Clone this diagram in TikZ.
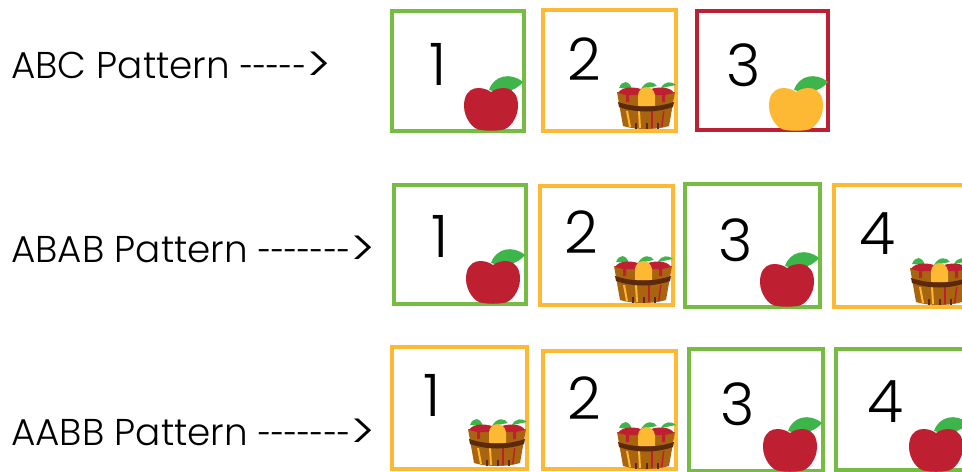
\documentclass[tikz,border=0pt]{standalone}
\usepackage{fontspec}
\setmainfont{Poppins Light}
\usetikzlibrary{positioning}
\definecolor{cardgreen}{HTML}{76BC43}
\definecolor{cardyellow}{HTML}{FDB933}
\definecolor{cardred}{HTML}{BE2033}
\definecolor{applered}{HTML}{BE2032}
\definecolor{leafgreen}{HTML}{3DB54A}
\definecolor{tubbrown}{HTML}{A9640F}
\definecolor{tubdark}{HTML}{5B2A0C}
\def\dashrun#1{\raisebox{-2pt}{\foreach \d in {1,...,#1}{\scalebox{.68}[1]{-}}}\raisebox{-3pt}{\fontsize{38}{38}\selectfont\textgreater}}
\tikzset{
	cardbox/.style n args={3}{
		draw=#1, line width=3.2pt, fill=white, inner sep=0pt,
		minimum width=#2*.75pt-3.2pt, minimum height=#3*.75pt-3.2pt
	},
	numeral/.style={font=\fontsize{44}{44}\selectfont, text=black, inner sep=0pt},
	rowlabel/.style={font=\fontsize{28}{28}\selectfont, text=black, inner sep=0pt, anchor=base west},
	apple/.pic={
		\fill[leafgreen] (-2,-40) .. controls (3,-55) and (20,-58) .. (32,-48) .. controls (24,-38) and (10,-36) .. (-2,-40) -- cycle;
		\fill[#1] (0,-38) .. controls (-8,-44) and (-27,-46) .. (-27,-24) .. controls (-27,-12) and (-18,0) .. (-10,0) .. controls (-5,1) and (5,1) .. (10,0) .. controls (18,0) and (27,-12) .. (27,-24) .. controls (27,-46) and (8,-44) .. (0,-38) -- cycle;
	},
	basket/.pic={
		\fill[leafgreen] (-27,-42) .. controls (-24,-50) and (-17,-50) .. (-14,-41) -- cycle;
		\fill[leafgreen] (-5,-41) .. controls (0,-50) and (8,-49) .. (11,-44) -- cycle;
		\fill[leafgreen] (15,-42) .. controls (18,-49) and (26,-49) .. (30,-45) -- cycle;
		\fill[tubbrown] (-29,-38) -- (29,-38) -- (23,-4) .. controls (10,0) and (-10,0) .. (-23,-4) -- cycle;
		\fill[applered] (-28,-37) .. controls (-24,-44) and (-10,-44) .. (0,-39) .. controls (10,-44) and (24,-44) .. (28,-37) -- (19,-35) -- (19,-28) -- (16,-28) -- (16,-35) -- (-17,-35) -- (-17,-28) -- (-20,-28) -- (-20,-35) -- cycle;
		\fill[cardyellow] (-8,-24) -- (-8,-35) .. controls (-7,-45) and (7,-46) .. (9,-35) -- (9,-24) -- cycle;
		\fill[cardyellow] (-20,-19) -- (-18,-19) -- (-15,-3) -- (-17,-3) -- cycle;
		\fill[cardyellow] (-8,-19) -- (-6,-19) -- (-5,-2) -- (-7,-2) -- cycle;
		\fill[applered] (5,-19) -- (6.5,-19) -- (6.5,-2) -- (5,-2) -- cycle;
		\fill[applered] (17,-19) -- (18.5,-19) -- (16.5,-3) -- (15,-3) -- cycle;
		\fill[tubdark] (-28,-28) .. controls (-10,-22) and (10,-22) .. (28,-28) -- (27,-23) .. controls (10,-17) and (-10,-17) .. (-27,-23) -- cycle;
		\foreach \slat in {-11,0,11}
			\fill[tubdark] (\slat,-7) rectangle (\slat+1.5,-1);
	}
}

\begin{document}
\begin{tikzpicture}[x=.75pt,y=-.75pt]
\useasboundingbox (0,0) rectangle (962,471);
\clip (0,0) rectangle (962,471);

\node[rowlabel] (abclabel) at (11,78) {ABC Pattern \dashrun{5}};
\node[rowlabel] (abablabel) at (11,262) {ABAB Pattern \dashrun{7}};
\node[rowlabel] (aabblabel) at (11,445) {AABB Pattern \dashrun{7}};

% first row
\node[cardbox={cardgreen}{136}{124}] (abcone) at (458,71) {};
\node[cardbox={cardyellow}{137}{125}] (abctwo) at (609.5,70.5) {};
\node[cardbox={cardred}{135}{123}] (abcthree) at (762.5,70.5) {};
\node[numeral] (abconenum) at (438,64) {1};
\node[numeral] (abctwonum) at (584,59) {2};
\node[numeral] (abcthreenum) at (744,65) {3};
\pic at (491,130) {apple=applered};
\pic at (646,130) {basket};
\pic at (796,130) {apple=cardyellow};

% second row
\node[cardbox={cardgreen}{136}{123}] (ababone) at (460,244.5) {};
\node[cardbox={cardyellow}{137}{123}] (ababtwo) at (606.5,245.5) {};
\node[cardbox={cardgreen}{139}{127}] (ababthree) at (752.5,245.5) {};
\node[cardbox={cardyellow}{137}{126}] (ababfour) at (900.5,246) {};
\node[numeral] (ababonenum) at (440,236) {1};
\node[numeral] (ababtwonum) at (581,232) {2};
\node[numeral] (ababthreenum) at (736,240) {3};
\node[numeral] (ababfournum) at (877,234) {4};
\pic at (493,303) {apple=applered};
\pic at (643,304) {basket};
\pic at (787,306) {apple=applered};
\pic at (939,306) {basket};

% third row
\node[cardbox={cardyellow}{139}{126}] (aabbone) at (459.5,408) {};
\node[cardbox={cardyellow}{137}{122}] (aabbtwo) at (609.5,410) {};
\node[cardbox={cardgreen}{138}{126}] (aabbthree) at (756,410) {};
\node[cardbox={cardgreen}{138}{126}] (aabbfour) at (903,409.5) {};
\node[numeral] (aabbonenum) at (432,395) {1};
\node[numeral] (aabbtwonum) at (584,398) {2};
\node[numeral] (aabbthreenum) at (738,404) {3};
\node[numeral] (aabbfournum) at (885,402) {4};
\pic at (497,467) {basket};
\pic at (646,470) {basket};
\pic at (790,471) {apple=applered};
\pic at (936,471) {apple=applered};
\end{tikzpicture}
\end{document}
